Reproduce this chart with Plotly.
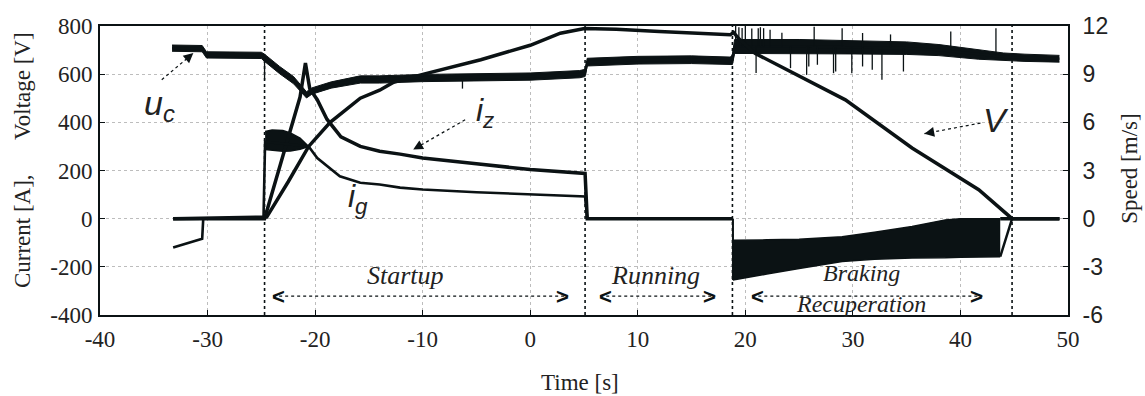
import numpy as np
import plotly.graph_objects as go

# ---------------- data ----------------
# capacitor voltage u_c [V]
t_uc = [-33.3, -30.5, -30.1, -27, -25, -24.7, -23.3, -22, -21.1, -20.8, -20.3, -18.5, -15.8,
        -14, -10, -5, 0, 4.6, 5.1, 5.3, 10, 15, 18.6, 18.8, 19, 25, 30, 35, 38, 41.7, 44, 46, 49.2]
uc = [708, 706, 680, 680, 678, 668, 617, 575, 528, 514, 530, 555, 578,
      578, 584, 586, 590, 600, 605, 650, 658, 660, 655, 660, 715, 715, 712, 708, 700, 682, 672, 668, 664]
uc_ripple = [13, 13, 13, 13, 13, 15, 15, 15, 13, 13, 13, 13, 15,
             15, 15, 15, 15, 15, 15, 16, 16, 16, 16, 20, 29, 29, 28, 26, 23, 20, 16, 15, 14]
# voltage spikes (time, tip value)
spike_t = [-24.7, -6.3, 19.1, 19.4, 19.7, 20.0, 20.6, 21.2, 21.4, 21.7, 22.3, 23.4, 26.4, 29.0,
           30.9, 33.5, 39.1, 43.3,
           21.0, 24.2, 25.7, 25.9, 26.7, 28.2, 28.4, 29.9, 30.9, 31.8, 32.7, 34.7]
spike_v = [577, 540, 800, 795, 792, 800, 790, 791, 795, 791, 784, 772, 797, 791,
           771, 765, 777, 791,
           605, 625, 597, 632, 639, 604, 611, 604, 632, 618, 577, 611]

# speed V [m/s]
t_speed = [-33.2, -24.5, -22.5, -20.6, -18.6, -15.8, -14, -12.7, -9.9, -4.6, 0, 2.8, 5.05, 8, 12,
           18.6, 18.9, 19.4, 20.9, 26.2, 29.3, 35.5, 41.7, 44.8, 49.2]
speed = [0, 0.1, 2.3, 4.5, 6.0, 7.5, 8.0, 8.5, 9.0, 9.9, 10.8, 11.55, 11.85, 11.8, 11.65,
         11.45, 11.6, 11.2, 10.3, 8.45, 7.4, 4.4, 1.8, 0.0, 0.0]

# current i_z [A]
t_iz = [-33.2, -24.7, -21.4, -20.9, -20.5, -19.8, -18.9, -17.6, -15.8, -14, -12.1, -10, -5, 0,
        5.1, 5.3, 18.85]
i_z = [0, 0, 505, 646, 540, 494, 413, 340, 300, 280, 268, 252, 228, 204, 188, 0, 0]

# current i_g [A]
t_ig = [-33.2, -30.5, -30.4, -24.8, -24.65, -20.6, -19.8, -18.9, -17.7, -15.8, -14, -12.1, -10,
        -5, 0, 5.1, 5.3, 18.85]
i_g = [-120, -83, 0, 0, 320, 300, 252, 218, 176, 149, 142, 129, 121, 110, 101, 92, 0, 0]
# oscillating envelope of i_g during start
t_blob = [-24.65, -24.0, -23.0, -22.3, -21.4, -20.6]
ig_blob_hi = [362, 368, 366, 356, 335, 300]
ig_blob_lo = [287, 284, 280, 281, 288, 300]

# oscillating current envelope during braking recuperation
t_brake = [18.85, 20, 22, 25, 29, 32, 35.5, 38.6, 40, 43.7]
i_brake_hi = [-90, -90, -88, -85, -75, -56, -33, -5, 0, 0]
i_brake_lo = [-255, -245, -230, -207, -178, -168, -163, -162, -160, -158]
t_tail_z = [43.7, 44.8, 49.2]
i_tail_z = [-158, 0, 0]
t_tail_g = [43.7, 49.2]
i_tail_g = [0, 0]

phase_bounds = [-24.7, 5.1, 18.8, 44.8]
x_ticks = list(range(-40, 51, 10))
y_ticks = list(range(-400, 801, 200))
y2_ticks = list(range(-6, 13, 3))

# ---------------- figure ----------------
INK = "#0b1214"
TXT = "#222222"
SERIF = "Liberation Serif"
SANS = "Liberation Sans"

fig = go.Figure()

uc_arr = np.array(uc, float)
rip = np.array(uc_ripple, float)
fig.add_trace(go.Scatter(x=t_uc, y=uc_arr - rip, mode="lines",
                         line=dict(color=INK, width=1), hoverinfo="skip"))
fig.add_trace(go.Scatter(x=t_uc, y=uc_arr + rip, mode="lines", fill="tonexty",
                         fillcolor=INK, line=dict(color=INK, width=1), hoverinfo="skip"))
fig.add_trace(go.Scatter(x=t_uc, y=uc, mode="lines", line=dict(color=INK, width=2.5), name="u_c"))

# spikes
sx, sy = [], []
base = np.interp(spike_t, t_uc, uc)
for t, b, v in zip(spike_t, base, spike_v):
    sx += [t, t, None]
    sy += [b, v, None]
fig.add_trace(go.Scatter(x=sx, y=sy, mode="lines", line=dict(color=INK, width=1.3),
                         hoverinfo="skip", connectgaps=False))

# i_g blob
fig.add_trace(go.Scatter(x=t_blob, y=ig_blob_lo, mode="lines",
                         line=dict(color=INK, width=1.5), hoverinfo="skip"))
fig.add_trace(go.Scatter(x=t_blob, y=ig_blob_hi, mode="lines", fill="tonexty",
                         fillcolor=INK, line=dict(color=INK, width=1.5), hoverinfo="skip"))

# braking band
fig.add_trace(go.Scatter(x=t_brake, y=i_brake_lo, mode="lines",
                         line=dict(color=INK, width=1.5), hoverinfo="skip"))
fig.add_trace(go.Scatter(x=t_brake, y=i_brake_hi, mode="lines", fill="tonexty",
                         fillcolor=INK, line=dict(color=INK, width=1.5), hoverinfo="skip"))

fig.add_trace(go.Scatter(x=t_iz, y=i_z, mode="lines", line=dict(color=INK, width=3.5), name="i_z"))
fig.add_trace(go.Scatter(x=t_ig, y=i_g, mode="lines", line=dict(color=INK, width=2.6), name="i_g"))
fig.add_trace(go.Scatter(x=t_tail_z, y=i_tail_z, mode="lines", line=dict(color=INK, width=2.5)))
fig.add_trace(go.Scatter(x=t_tail_g, y=i_tail_g, mode="lines", line=dict(color=INK, width=3.5)))
fig.add_trace(go.Scatter(x=[t_brake[0], t_brake[0]], y=[0, i_brake_lo[0]], mode="lines",
                         line=dict(color=INK, width=2)))

fig.add_trace(go.Scatter(x=t_speed, y=speed, mode="lines", line=dict(color=INK, width=3.5),
                         yaxis="y2", name="V"))

# phase boundaries
for xb in phase_bounds:
    fig.add_shape(type="line", xref="x", yref="paper", x0=xb, x1=xb, y0=0, y1=1,
                  line=dict(color=INK, width=1.6, dash="dot"))

# phase arrows
phase_y = -322
phase_spans = [(-23.9, 3.53), (6.51, 17.21), (20.65, 42.05)]
for x0, x1 in phase_spans:
    fig.add_shape(type="line", xref="x", yref="y", x0=x0, x1=x1, y0=phase_y, y1=phase_y,
                  line=dict(color=INK, width=1.2, dash="dot"))
    fig.add_annotation(x=x0, y=phase_y, text="<b>&lt;</b>", showarrow=False, xanchor="left",
                       yanchor="middle", font=dict(family=SANS, size=22, color=INK), xshift=-3)
    fig.add_annotation(x=x1, y=phase_y, text="<b>&gt;</b>", showarrow=False, xanchor="right",
                       yanchor="middle", font=dict(family=SANS, size=22, color=INK), xshift=3)
for label, xc, yc, size in [("Startup", -11.63, -234.8, 26), ("Running", 11.63, -234.8, 26),
                            ("Braking<br>Recuperation", 30.8, -290, 24)]:
    fig.add_annotation(x=xc, y=yc, text="<i>" + label + "</i>", showarrow=False,
                       xanchor="center", yanchor="middle",
                       font=dict(family=SERIF, size=size, color=TXT))

# curve labels with dotted arrows
curve_labels = [
    ("<i>u<sub>c</sub></i>", -34.5, 470, 34, (-34.26, 576.8), (-31.32, 687.4), (-7, 6)),
    ("<i>i<sub>z</sub></i>", -4.2, 440, 32, (-6.05, 411), (-10.88, 287), (8, -4.5)),
    ("<i>i<sub>g</sub></i>", -16.0, 85, 32, None, None, None),
    ("<i>V</i>", 43.3, 411, 34, (41.86, 397), (36.65, 353), (9, -1.7)),
]
for text, xl, yl, size, p0, p1, hd in curve_labels:
    fig.add_annotation(x=xl, y=yl, text=text, showarrow=False, xanchor="center",
                       yanchor="middle", font=dict(family=SANS, size=size, color=TXT))
    if p0 is not None:
        fig.add_shape(type="line", xref="x", yref="y", x0=p0[0], y0=p0[1], x1=p1[0], y1=p1[1],
                      line=dict(color=INK, width=1.2, dash="dot"))
        fig.add_annotation(x=p1[0], y=p1[1], ax=hd[0], ay=hd[1], axref="pixel", ayref="pixel",
                           text="", showarrow=True, arrowhead=2, arrowsize=1.4,
                           arrowwidth=1.4, arrowcolor=INK)

# axis titles
fig.add_annotation(xref="paper", yref="paper", x=-0.0806, y=0.536, textangle=-90,
                   xanchor="center", yanchor="middle",
                   text="Current [A],\u00a0\u00a0\u00a0\u00a0\u00a0\u00a0Voltage [V]",
                   showarrow=False, font=dict(family=SERIF, size=23, color=TXT))
fig.add_annotation(xref="paper", yref="paper", x=1.064, y=0.509, textangle=-90,
                   xanchor="center", yanchor="middle",
                   text="Speed [m/s]", showarrow=False,
                   font=dict(family=SERIF, size=23, color=TXT))
fig.add_annotation(xref="paper", yref="paper", x=0.496, y=-0.232,
                   xanchor="center", yanchor="middle",
                   text="Time [s]", showarrow=False,
                   font=dict(family=SERIF, size=23, color=TXT))

grid = dict(showgrid=True, gridcolor="#bdbdbd", griddash="dot", gridwidth=1, zeroline=False)
fig.update_layout(
    width=1145, height=396,
    margin=dict(l=100, r=77, t=26, b=81),
    paper_bgcolor="white", plot_bgcolor="white",
    showlegend=False,
    font=dict(family=SERIF, size=22, color=TXT),
    xaxis=dict(range=[-40, 50], tickvals=x_ticks, ticktext=[str(v) for v in x_ticks],
               ticks="inside", ticklen=5, tickcolor=INK, showline=True, mirror=True,
               linecolor=INK, linewidth=2, ticklabelstandoff=2,
               tickfont=dict(family=SERIF, size=23, color=TXT), **grid),
    yaxis=dict(range=[-400, 800], tickvals=y_ticks, ticktext=[str(v) for v in y_ticks],
               ticks="inside", ticklen=5, tickcolor=INK, showline=True, mirror=True,
               linecolor=INK, linewidth=2, ticklabelstandoff=1,
               tickfont=dict(family=SERIF, size=23, color=TXT), **grid),
    yaxis2=dict(range=[-6, 12], tickvals=y2_ticks, ticktext=[str(v) for v in y2_ticks],
                overlaying="y", side="right", showgrid=False, zeroline=False,
                ticks="inside", ticklen=5, tickcolor=INK, showline=True,
                linecolor=INK, linewidth=2, ticklabelstandoff=8,
                tickfont=dict(family=SANS, size=23, color=TXT)),
)

fig.write_html("out.html")
